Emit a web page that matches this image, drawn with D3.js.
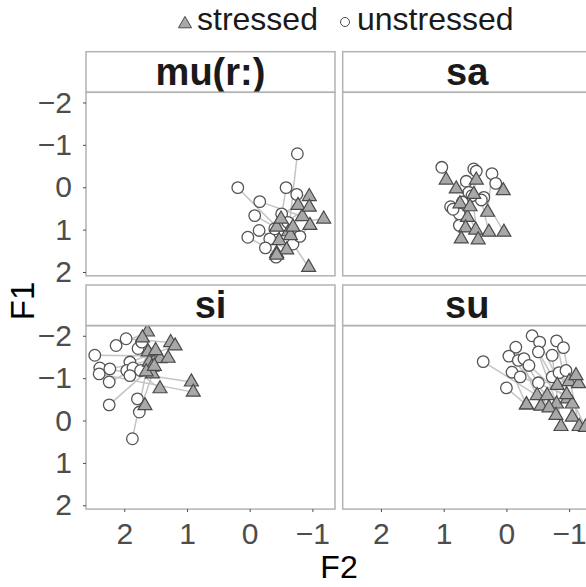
<!DOCTYPE html>
<html>
<head>
<meta charset="utf-8">
<script src="https://cdn.jsdelivr.net/npm/d3@7"></script>
<style>
html,body{margin:0;padding:0;background:#fff;overflow:hidden;}
text{font-family:"Liberation Sans",Arial,sans-serif;}
</style>
</head>
<body>
<script>
// ---- data: [F2, F1] for each speaker pair (unstressed / stressed) ----
const facets = ["mu(r:)", "sa", "si", "su"];
const xTicks = [2, 1, 0, -1];
const yTicks = [-2, -1, 0, 1, 2];
const legendLabels = ["stressed", "unstressed"];

const mu_unstressed = [[-0.76,-0.79],[0.19,0.01],[-0.58,0.01],[-0.16,0.34],[-0.75,0.17],[-0.08,0.67],[-0.51,0.63],[-0.15,1.02],[0.03,1.18],[-0.32,1.22],[-0.40,0.98],[-0.61,0.83],[-0.25,1.43],[-0.42,1.65],[-0.69,1.34],[-0.80,1.16]];
const mu_stressed   = [[-0.62,1.05],[-0.43,0.94],[-0.50,0.75],[-0.84,0.69],[-0.95,0.22],[-0.65,1.14],[-0.77,0.43],[-0.47,1.26],[-0.43,1.56],[-0.59,1.48],[-0.95,0.47],[-1.18,0.75],[-0.69,0.94],[-0.43,1.60],[-0.94,1.89],[-0.96,0.90]];

const sa_unstressed = [[1.03,-0.47],[0.52,-0.43],[0.48,-0.38],[0.23,-0.32],[0.17,-0.09],[0.64,-0.14],[0.36,0.24],[0.89,0.46],[0.75,0.63],[0.75,0.90],[0.60,0.12],[0.40,0.30],[0.70,0.35],[0.85,0.52],[0.55,0.20]];
const sa_stressed   = [[0.96,-0.17],[0.48,-0.17],[0.52,0.17],[0.30,0.59],[0.05,0.08],[0.80,0.04],[0.04,1.06],[0.74,0.39],[0.62,0.71],[0.65,0.96],[0.58,0.46],[0.28,1.06],[0.49,1.01],[0.72,1.22],[0.45,1.24]];

const si_unstressed = [[2.47,-1.54],[2.39,-1.24],[2.40,-1.10],[2.23,-1.22],[2.24,-0.91],[2.13,-1.77],[1.97,-1.93],[1.91,-1.38],[1.96,-1.18],[1.86,-1.24],[1.74,-1.18],[1.78,-1.70],[2.24,-0.37],[1.79,-0.51],[1.76,-0.20],[1.87,0.43],[1.72,-1.85],[1.91,-1.06]];
const si_stressed   = [[1.48,-1.52],[0.93,-0.91],[0.90,-0.67],[1.43,-1.46],[1.60,-1.38],[1.63,-2.09],[1.26,-1.84],[1.19,-1.76],[1.30,-1.47],[1.43,-0.75],[1.62,-1.62],[1.71,-1.95],[1.56,-1.26],[1.67,-0.35],[1.55,-1.10],[1.65,-1.15],[1.50,-1.65],[1.52,-1.28]];

const su_unstressed = [[0.37,-1.39],[-0.41,-2.00],[-0.53,-1.85],[-0.15,-1.73],[-0.51,-1.62],[-0.80,-1.88],[-0.91,-1.72],[-0.73,-1.54],[-0.04,-1.52],[-0.19,-1.42],[-0.28,-1.46],[-0.36,-1.30],[-0.09,-1.14],[-0.22,-1.03],[0.00,-0.77],[-0.51,-0.89],[-0.73,-1.03],[-0.84,-1.13],[-0.95,-1.18]];
const su_stressed   = [[-0.49,-0.59],[-0.80,-0.39],[-0.97,-0.51],[-0.55,-0.34],[-0.81,-0.83],[-1.05,-0.08],[-1.16,0.14],[-0.87,0.14],[-0.65,-0.59],[-0.68,-0.30],[-0.79,-0.12],[-1.05,-0.39],[-0.32,-0.37],[-0.96,-0.61],[-0.32,-0.37],[-1.00,-0.92],[-1.15,-0.87],[-1.26,0.16],[-1.11,-1.06]];

const facetData = {
  "mu(r:)": {u: mu_unstressed, s: mu_stressed},
  "sa": {u: sa_unstressed, s: sa_stressed},
  "si": {u: si_unstressed, s: si_stressed},
  "su": {u: su_unstressed, s: su_stressed}
};

// ---- layout ----
const W = 600, H = 587;
const svg = d3.select("body").append("svg").attr("width", W).attr("height", H);

const colX = [86, 342.7];
const panelW = 249;
const rowStrip = [51.7, 285];
const stripH = 40.6;
const panelH = 183.5;

const x = d3.scaleLinear().domain([2.61, -1.36]).range([0, panelW]);
const y = d3.scaleLinear().domain([-2.24, 2.09]).range([0, panelH]);

const borderCol = "#b3b3b3";
const tri = d3.symbol().type(d3.symbolTriangle).size(84);

facets.forEach((f, i) => {
  const col = i % 2, row = Math.floor(i / 2);
  const px = colX[col], sy = rowStrip[row], py = sy + stripH;
  // strip
  svg.append("rect").attr("x", px).attr("y", sy).attr("width", panelW).attr("height", stripH)
    .attr("fill", "#fff").attr("stroke", borderCol).attr("stroke-width", 1.5);
  svg.append("text").attr("x", px + panelW / 2).attr("y", sy + stripH / 2 + 13)
    .attr("text-anchor", "middle").attr("font-size", 38).attr("font-weight", "bold")
    .attr("fill", "#1a1a1a").text(f);

  const g = svg.append("g").attr("transform", `translate(${px},${py})`);
  const clipId = "clip" + i;
  g.append("clipPath").attr("id", clipId).append("rect").attr("width", panelW).attr("height", panelH);
  const pg = g.append("g").attr("clip-path", `url(#${clipId})`);
  const d = facetData[f];
  pg.selectAll("line.pair").data(d.u.map((u, k) => [u, d.s[k]])).enter().append("line")
    .attr("x1", p => x(p[0][0])).attr("y1", p => y(p[0][1]))
    .attr("x2", p => x(p[1][0])).attr("y2", p => y(p[1][1]))
    .attr("stroke", "#c4c4c4").attr("stroke-width", 1.5);
  pg.selectAll("circle").data(d.u).enter().append("circle")
    .attr("cx", p => x(p[0])).attr("cy", p => y(p[1])).attr("r", 5.8)
    .attr("fill", "#fff").attr("stroke", "#555").attr("stroke-width", 1.3);
  pg.selectAll("path.tri").data(d.s).enter().append("path")
    .attr("d", tri).attr("transform", p => `translate(${x(p[0])},${y(p[1])})`)
    .attr("fill", "#a8a8a8").attr("stroke", "#4a4a4a").attr("stroke-width", 1.2);

  // panel border
  g.append("rect").attr("width", panelW).attr("height", panelH)
    .attr("fill", "none").attr("stroke", borderCol).attr("stroke-width", 1.5);

  // y axis on left column
  if (col === 0) {
    const ya = g.append("g").call(d3.axisLeft(y).tickValues(yTicks).tickSize(3).tickPadding(11)
      .tickFormat(d3.format("")));
    ya.select(".domain").remove();
    ya.selectAll("line").attr("stroke", "#4d4d4d");
    ya.selectAll("text").attr("font-size", 30).attr("fill", "#4d4d4d").attr("font-family", "Liberation Sans, Arial, sans-serif");
  }
  if (row === 1) {
    const xa = g.append("g").attr("transform", `translate(0,${panelH})`)
      .call(d3.axisBottom(x).tickValues(xTicks).tickSize(3).tickPadding(11).tickFormat(d3.format("")));
    xa.select(".domain").remove();
    xa.selectAll("line").attr("stroke", "#4d4d4d");
    xa.selectAll("text").attr("font-size", 30).attr("fill", "#4d4d4d").attr("font-family", "Liberation Sans, Arial, sans-serif");
  }
});

// axis titles
svg.append("text").attr("x", 339).attr("y", 578).attr("text-anchor", "middle")
  .attr("font-size", 32).attr("fill", "#000").text("F2");
svg.append("text").attr("transform", "translate(34,301) rotate(-90)").attr("text-anchor", "middle")
  .attr("font-size", 33).attr("fill", "#000").text("F1");

// legend
const lg = svg.append("g");
lg.append("path").attr("d", d3.symbol().type(d3.symbolTriangle).size(75)())
  .attr("transform", "translate(185,24)").attr("fill", "#a8a8a8").attr("stroke", "#4a4a4a").attr("stroke-width", 1);
lg.append("text").attr("x", 197).attr("y", 30).attr("font-size", 32).attr("fill", "#1a1a1a").text(legendLabels[0]);
lg.append("circle").attr("cx", 345).attr("cy", 22).attr("r", 4.5)
  .attr("fill", "#fff").attr("stroke", "#4a4a4a").attr("stroke-width", 1);
lg.append("text").attr("x", 357).attr("y", 30).attr("font-size", 32).attr("fill", "#1a1a1a").text(legendLabels[1]);
</script>
</body>
</html>
